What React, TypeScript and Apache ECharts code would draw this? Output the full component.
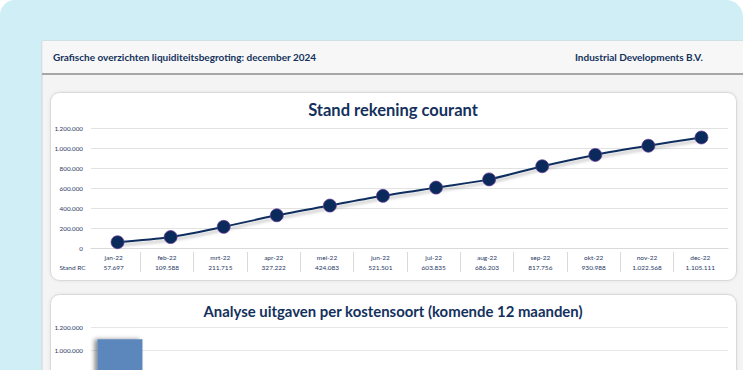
import React, { useEffect, useRef } from "react";
import * as echarts from "echarts";

const months = ["jan-22", "feb-22", "mrt-22", "apr-22", "mei-22", "jun-22", "jul-22", "aug-22", "sep-22", "okt-22", "nov-22", "dec-22"];
const standRC = [57697, 109588, 211715, 327222, 424083, 521501, 603835, 686203, 817756, 930988, 1022568, 1105111];
const costCategories = ["1", "2", "3", "4", "5", "6", "7", "8", "9", "10", "11"];
const costValues: (number | null)[] = [1097000, null, null, null, null, null, null, null, null, null, null];
const visibleCostTicks = [1000000, 1200000];

const NAVY = "#13315c";
const LABEL = "#1f3864";
const FONT = "Lato, 'Open Sans', sans-serif";

const fmt = (v: number) => String(Math.round(v)).replace(/\B(?=(\d{3})+(?!\d))/g, ".");

export default function App() {
  const ref = useRef<HTMLDivElement>(null);
  useEffect(() => {
    if (!ref.current) return;
    const chart = echarts.init(ref.current, undefined, { renderer: "svg" });
    chart.setOption({
      animation: false,
      textStyle: { fontFamily: FONT },
      graphic: [
        { type: "rect", z: -10, shape: { x: 0, y: 0, width: 743, height: 480 }, style: { fill: "#ffffff" } },
        { type: "rect", z: -9, shape: { x: 0, y: 0, width: 743, height: 480, r: [15, 17, 0, 0] }, style: { fill: "#cfeef6" } },
        { type: "rect", z: -8, shape: { x: 42, y: 41, width: 710, height: 450 }, style: { fill: "#f4f4f4", stroke: "#d4d4d4", lineWidth: 1 } },
        { type: "rect", z: -7, shape: { x: 42.5, y: 41, width: 710, height: 32 }, style: { fill: "#f7f7f7" } },
        { type: "line", z: -6, shape: { x1: 42, y1: 74, x2: 743, y2: 74 }, style: { stroke: "#a6a6a6", lineWidth: 2 } },
        {
          type: "rect", z: -5, shape: { x: 50.5, y: 92.5, width: 686, height: 188, r: 9 },
          style: { fill: "#ffffff", stroke: "#d9d9d9", lineWidth: 1, shadowColor: "rgba(0,0,0,0.08)", shadowBlur: 3 },
        },
        {
          type: "rect", z: -5, shape: { x: 50.5, y: 294.5, width: 686, height: 170, r: 9 },
          style: { fill: "#ffffff", stroke: "#d9d9d9", lineWidth: 1, shadowColor: "rgba(0,0,0,0.08)", shadowBlur: 3 },
        },
        {
          type: "text", z: 10, x: 53, y: 57,
          style: { text: "Grafische overzichten liquiditeitsbegroting: december 2024", fill: NAVY, font: `bold 10px ${FONT}`, textVerticalAlign: "middle" },
        },
        {
          type: "text", z: 10, x: 703, y: 57,
          style: { text: "Industrial Developments B.V.", fill: NAVY, font: `bold 10px ${FONT}`, textAlign: "right", textVerticalAlign: "middle" },
        },
        {
          type: "text", z: 10, x: 393, y: 110,
          style: { text: "Stand rekening courant", fill: NAVY, font: `bold 16.5px ${FONT}`, textAlign: "center", textVerticalAlign: "middle" },
        },
        {
          type: "text", z: 10, x: 393, y: 311,
          style: { text: "Analyse uitgaven per kostensoort (komende 12 maanden)", fill: NAVY, font: `bold 14.9px ${FONT}`, textAlign: "center", textVerticalAlign: "middle" },
        },
        {
          type: "text", z: 10, x: 72.5, y: 267,
          style: { text: "Stand RC", fill: LABEL, font: `6.5px ${FONT}`, textAlign: "center", textVerticalAlign: "middle" },
        },
      ],
      grid: [
        { left: 91, right: 15, top: 128, height: 120 },
        { left: 87, right: 16, top: 252, height: 20 },
        { left: 91, right: 15, top: 327.7, height: 135.6 },
      ],
      xAxis: [
        {
          type: "category", gridIndex: 0, data: months, boundaryGap: true,
          axisLine: { lineStyle: { color: "#d9d9d9" } }, axisTick: { show: false }, axisLabel: { show: false },
        },
        {
          type: "category", gridIndex: 1, data: months, position: "top", boundaryGap: true,
          axisLine: { show: false }, axisTick: { show: false },
          axisLabel: {
            inside: true, margin: 0, interval: 0, color: LABEL, fontSize: 6.5, lineHeight: 10,
            formatter: (v: string, i: number) => `${v}\n${fmt(standRC[i])}`,
          },
          splitLine: { show: true, interval: 0, showMinLine: false, showMaxLine: false, lineStyle: { color: "#d9d9d9", width: 1 } },
        },
        {
          type: "category", gridIndex: 2, data: costCategories, boundaryGap: true,
          axisLine: { lineStyle: { color: "#d9d9d9" } }, axisTick: { show: false }, axisLabel: { show: false },
        },
      ],
      yAxis: [
        {
          type: "value", gridIndex: 0, min: 0, max: 1200000, interval: 200000,
          axisLabel: { color: LABEL, fontSize: 6.3, margin: 8, formatter: (v: number) => fmt(v) },
          splitLine: { lineStyle: { color: "#e2e2e2" } }, axisLine: { show: false }, axisTick: { show: false },
        },
        { type: "value", gridIndex: 1, show: false, splitLine: { show: false } },
        {
          type: "value", gridIndex: 2, min: 0, max: 1200000, interval: 200000,
          axisLabel: {
            color: LABEL, fontSize: 6.3, margin: 8,
            formatter: (v: number) => (visibleCostTicks.indexOf(v) >= 0 ? fmt(v) : ""),
          },
          splitLine: { lineStyle: { color: "#e6e6e6" } }, axisLine: { show: false }, axisTick: { show: false },
        },
      ],
      series: [
        {
          type: "line", xAxisIndex: 0, yAxisIndex: 0, data: standRC, smooth: 0.3,
          symbol: "circle", symbolSize: 13,
          lineStyle: { color: "#0f2d5e", width: 2, shadowColor: "rgba(0,0,0,0.25)", shadowBlur: 3, shadowOffsetY: 3 },
          itemStyle: { color: "#0b2a5c", borderColor: "#6a3a9a", borderWidth: 0.7 },
          z: 5,
        },
        {
          type: "bar", xAxisIndex: 2, yAxisIndex: 2, data: costValues, barWidth: 45,
          itemStyle: { color: "#5b87bd", shadowColor: "rgba(0,0,0,0.45)", shadowBlur: 4, shadowOffsetX: -3 },
        },
      ],
    });
    return () => chart.dispose();
  }, []);
  return (
    <div style={{ position: "absolute", left: 0, top: 0, width: 743, height: 370, overflow: "hidden" }}>
      <div ref={ref} style={{ width: 743, height: 480 }} />
    </div>
  );
}
